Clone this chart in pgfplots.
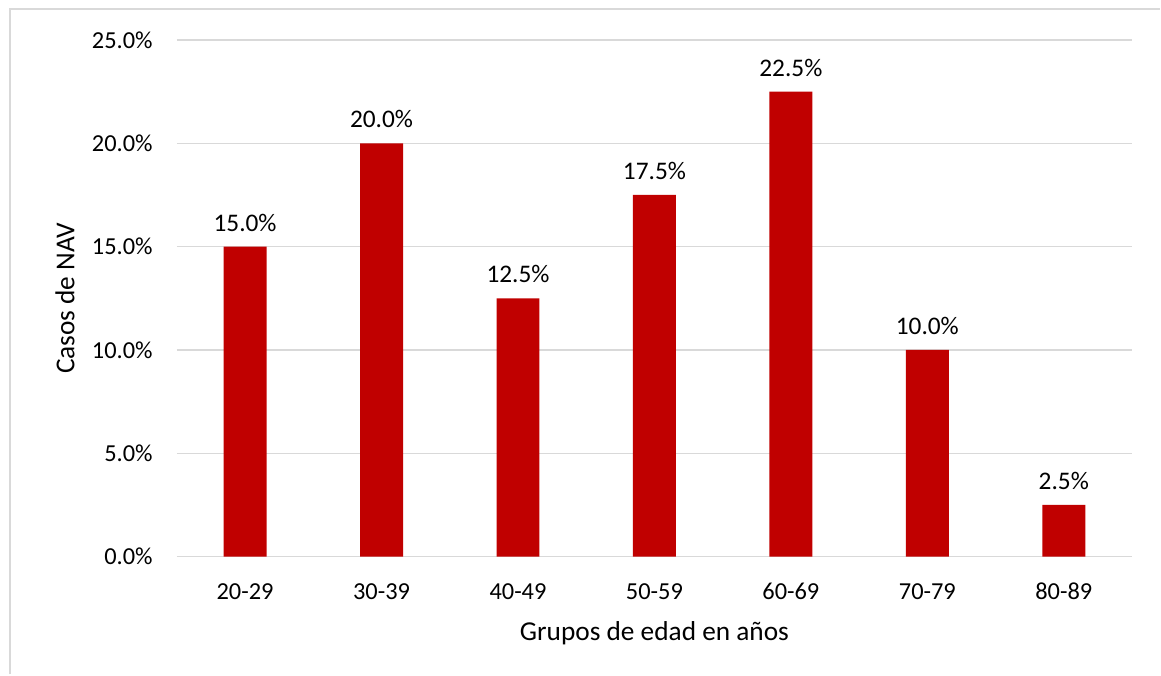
\documentclass[border=0pt]{standalone}
\usepackage{pgfplots}
\pgfplotsset{compat=1.18}
\usepackage{fontspec}
\setmainfont{Carlito}
\definecolor{barred}{HTML}{C00000}
\definecolor{gridgray}{HTML}{D9D9D9}
\begin{document}
\begin{tikzpicture}
\fontsize{18}{22}\selectfont
\path (0pt,0pt) rectangle (870.75pt,-506.25pt);
\draw[gridgray, line width=1.5pt] (7.5pt,-506.25pt) -- (7.5pt,-6.75pt) -- (870.75pt,-6.75pt);
\begin{axis}[
  at={(132.75pt,-417.75pt)}, anchor=south west,
  scale only axis,
  width=717pt, height=387.75pt,
  xmin=-0.5, xmax=6.5, ymin=0, ymax=25,
  ytick={0,5,10,15,20,25},
  xtick={0,...,6},
  xticklabels={20-29,30-39,40-49,50-59,60-69,70-79,80-89},
  yticklabel={\pgfmathprintnumber[fixed,fixed zerofill,precision=1]{\tick}\%},
  /pgf/number format/assume math mode=true,
  axis line style={draw=none},
  major tick length=0pt,
  ymajorgrids, grid style={gridgray, line width=1pt},
  yticklabel style={font=\fontsize{18.3}{22}\selectfont, anchor=east, inner sep=0pt, xshift=-18pt},
  xticklabel style={font=\fontsize{18.3}{22}\selectfont, anchor=center, inner sep=0pt, yshift=-26.25pt},
  xlabel={\fontsize{20.5}{24}\selectfont Grupos de edad en años},
  ylabel={\fontsize{20.5}{24}\selectfont Casos de NAV},
  every axis x label/.style={at={(rel axis cs:0.5,0)}, anchor=center, inner sep=0pt, yshift=-57.75pt},
  every axis y label/.style={at={(rel axis cs:0,0.5)}, anchor=center, inner sep=0pt, rotate=90, yshift=84pt},
  ybar, bar width=32.25pt,
  nodes near coords={\pgfmathprintnumber[fixed,fixed zerofill,precision=1]{\pgfplotspointmeta}\%},
  nodes near coords style={font=\fontsize{19}{23}\selectfont, anchor=center, inner sep=0pt, yshift=18pt},
  point meta=y,
  clip=false,
]
\draw[gridgray, line width=1pt] (axis cs:-0.5,0) -- (axis cs:6.5,0);
\addplot[fill=barred, draw=none] coordinates {(0,15) (1,20) (2,12.5) (3,17.5) (4,22.5) (5,10) (6,2.5)};
\end{axis}
\end{tikzpicture}
\end{document}
